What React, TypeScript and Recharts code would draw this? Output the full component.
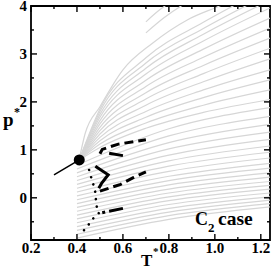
import { ComposedChart, Line, XAxis, YAxis, ReferenceArea } from "recharts"

const W = 273
const H = 279
const PLOT_TOP = 6
const PLOT_RIGHT = 270

const X_MAJOR = [0.2, 0.4, 0.6, 0.8, 1.0, 1.2]
const X_MINOR = [0.3, 0.5, 0.7, 0.9, 1.1]
const Y_MAJOR = [0, 1, 2, 3, 4]
const Y_MINOR = [-0.5, 0.5, 1.5, 2.5, 3.5]

// gray curves starting on the T*=0.4 edge (p* at T*=0.4, 0.8, 1.24)
const LOW_P04 = [-0.84, -0.76, -0.68, -0.6, -0.52, -0.44, -0.36, -0.28, -0.2, -0.12, -0.04, 0.04, 0.12, 0.2, 0.28, 0.36, 0.44, 0.52, 0.6, 0.68]
const LOW_P08 = [-0.45, -0.37, -0.3, -0.22, -0.14, -0.06, 0.02, 0.1, 0.18, 0.27, 0.36, 0.45, 0.55, 0.66, 0.77, 0.89, 1.02, 1.15, 1.29, 1.44]
const LOW_PEND = [-0.19, -0.12, -0.05, 0.02, 0.1, 0.18, 0.26, 0.34, 0.43, 0.52, 0.62, 0.72, 0.83, 0.95, 1.08, 1.22, 1.37, 1.53, 1.7, 1.88]

// gray curves fanning out of the critical point (p* at T*=0.5, 0.7, 0.95, 1.24)
const FAN_P05 = [1.05, 1.12, 1.19, 1.26, 1.33, 1.4, 1.47, 1.54, 1.61, 1.68, 1.74, 1.8, 1.85]
const FAN_P07 = [1.45, 1.56, 1.68, 1.8, 1.93, 2.06, 2.19, 2.32, 2.45, 2.58, 2.7, 2.81, 2.92]
const FAN_P095 = [1.78, 1.93, 2.09, 2.25, 2.42, 2.59, 2.76, 2.93, 3.1, 3.27, 3.41, 3.53, 3.66]
const FAN_PEND = [2.05, 2.25, 2.46, 2.67, 2.9, 3.12, 3.33, 3.54, 3.75, 3.96, 4.12, 4.26, 4.4]

// outermost gray curve
const EDGE_T = [0.41, 0.435, 0.5, 0.6, 0.73, 0.88, 1.01, 1.24]
const EDGE_P = [0.8, 1.33, 1.9, 2.67, 3.23, 3.71, 3.98, 4.45]

// two short gray curves near the top
const SHORT_A_T = [0.7, 0.78, 0.86, 0.95]
const SHORT_A_P = [3.44, 3.76, 4.02, 4.25]
const SHORT_B_T = [0.7, 0.76, 0.82]
const SHORT_B_P = [3.67, 3.92, 4.12]

const CRIT_T = 0.41
const CRIT_P = 0.79

const TIE_T = [0.3, 0.41]
const TIE_P = [0.48, 0.79]

const UPPER_T = [0.5, 0.51, 0.58, 0.7]
const UPPER_P = [0.92, 1.01, 1.12, 1.21]
const STUB_T = [0.54, 0.6]
const STUB_P = [0.93, 0.88]
const HOOK_T = [0.48, 0.536, 0.507, 0.495]
const HOOK_P = [0.66, 0.48, 0.3, 0.2]
const MIDDLE_T = [0.5, 0.545, 0.59, 0.645, 0.7]
const MIDDLE_P = [0.14, 0.21, 0.28, 0.42, 0.54]
const LOWER_T = [0.51, 0.6]
const LOWER_P = [-0.31, -0.22]
const DOTS_T = [0.453, 0.464, 0.475, 0.48, 0.483, 0.488, 0.497, 0.471, 0.449, 0.425]
const DOTS_P = [0.58, 0.39, 0.22, 0.11, -0.08, -0.25, -0.31, -0.43, -0.57, -0.71]

const pts = (ts: number[], ps: number[]) => ts.map((T, i) => ({ T, p: ps[i] }))

const lowLines = LOW_P04.map((p0, i) => pts([0.4, 0.8, 1.24], [p0, LOW_P08[i], LOW_PEND[i]]))
const fanLines = FAN_PEND.map((pe, i) =>
  pts([CRIT_T, 0.5, 0.7, 0.95, 1.24], [CRIT_P, FAN_P05[i], FAN_P07[i], FAN_P095[i], pe])
)
const grayLines = [
  ...lowLines,
  ...fanLines,
  pts(EDGE_T, EDGE_P),
  pts(SHORT_A_T, SHORT_A_P),
  pts(SHORT_B_T, SHORT_B_P),
]

const serif = { fontFamily: "Liberation Serif, DejaVu Serif, serif", fontWeight: 700 }

function XTick(props: any) {
  const { x, y, payload } = props
  const v = payload.value
  const major = X_MAJOR.includes(v)
  const len = major ? 6 : 3
  return (
    <g>
      <line x1={x} x2={x} y1={y} y2={y - len} stroke="#000" strokeWidth={1.4} />
      <line x1={x} x2={x} y1={PLOT_TOP} y2={PLOT_TOP + len} stroke="#000" strokeWidth={1.4} />
      {major && (
        <text x={x} y={y + 13} textAnchor="middle" style={{ ...serif, fontSize: 15 }} fill="#000">
          {v.toFixed(1)}
        </text>
      )}
    </g>
  )
}

function YTick(props: any) {
  const { x, y, payload } = props
  const v = payload.value
  const major = Y_MAJOR.includes(v)
  const len = major ? 6 : 3
  return (
    <g>
      <line x1={x} x2={x + len} y1={y} y2={y} stroke="#000" strokeWidth={1.4} />
      <line x1={PLOT_RIGHT} x2={PLOT_RIGHT - len} y1={y} y2={y} stroke="#000" strokeWidth={1.4} />
      {major && (
        <text x={x - 4} y={y + 5} textAnchor="end" style={{ ...serif, fontSize: 15 }} fill="#000">
          {v}
        </text>
      )}
    </g>
  )
}

export default function App() {
  return (
    <div style={{ position: "relative", width: W, height: H, background: "#fff" }}>
      <style>{"body{margin:0}"}</style>
      <ComposedChart width={W} height={H} margin={{ top: PLOT_TOP, right: 3, left: 0, bottom: 0 }}>
        <XAxis
          type="number"
          dataKey="T"
          domain={[0.2, 1.24]}
          allowDataOverflow
          ticks={[...X_MAJOR, ...X_MINOR]}
          interval={0}
          height={39}
          tickSize={0}
          tickMargin={0}
          axisLine={false}
          tickLine={false}
          tick={<XTick />}
        />
        <YAxis
          type="number"
          dataKey="p"
          domain={[-0.88, 4]}
          allowDataOverflow
          ticks={[...Y_MAJOR, ...Y_MINOR]}
          interval={0}
          width={31}
          tickSize={0}
          tickMargin={0}
          axisLine={false}
          tickLine={false}
          tick={<YTick />}
        />
        {grayLines.map((d, i) => (
          <Line
            key={"g" + i}
            data={d}
            dataKey="p"
            type="monotone"
            stroke="#d6d6d6"
            strokeWidth={1.2}
            dot={false}
            isAnimationActive={false}
          />
        ))}
        <Line data={pts(TIE_T, TIE_P)} dataKey="p" type="linear" stroke="#000" strokeWidth={1.5} dot={false} isAnimationActive={false} />
        <Line data={pts(UPPER_T, UPPER_P)} dataKey="p" type="linear" stroke="#000" strokeWidth={3} strokeDasharray="9 5" dot={false} isAnimationActive={false} />
        <Line data={pts(STUB_T, STUB_P)} dataKey="p" type="linear" stroke="#000" strokeWidth={3} dot={false} isAnimationActive={false} />
        <Line data={pts(HOOK_T, HOOK_P)} dataKey="p" type="linear" stroke="#000" strokeWidth={3} dot={false} isAnimationActive={false} />
        <Line data={pts(MIDDLE_T, MIDDLE_P)} dataKey="p" type="linear" stroke="#000" strokeWidth={3} strokeDasharray="9 5" dot={false} isAnimationActive={false} />
        <Line data={pts(LOWER_T, LOWER_P)} dataKey="p" type="linear" stroke="#000" strokeWidth={3} strokeDasharray="3 4 16 40" dot={false} isAnimationActive={false} />
        <Line
          data={pts(DOTS_T, DOTS_P)}
          dataKey="p"
          type="linear"
          stroke="#000"
          strokeWidth={2.6}
          strokeLinecap="round"
          strokeDasharray="0.01 7.5"
          dot={false}
          isAnimationActive={false}
        />
        <Line
          data={[{ T: CRIT_T, p: CRIT_P }]}
          dataKey="p"
          stroke="#000"
          dot={{ r: 5.5, fill: "#000", stroke: "none" }}
          isAnimationActive={false}
        />
        <ReferenceArea x1={0.2} x2={1.24} y1={-0.88} y2={4} fill="none" stroke="#000" strokeWidth={1.8} />
      </ComposedChart>
      <svg width={W} height={H} style={{ position: "absolute", left: 0, top: 0, pointerEvents: "none" }}>
        <g style={serif} fill="#000">
          <text x={3} y={126} fontSize={19}>p</text>
          <text x={14} y={116} fontSize={12}>*</text>
          <text x={141} y={266} fontSize={17}>T</text>
          <text x={153} y={255} fontSize={11}>*</text>
          <text x={195} y={225} fontSize={18}>C</text>
          <text x={208} y={232} fontSize={13}>2</text>
          <text x={218} y={225} fontSize={19.5}>case</text>
        </g>
      </svg>
    </div>
  )
}
